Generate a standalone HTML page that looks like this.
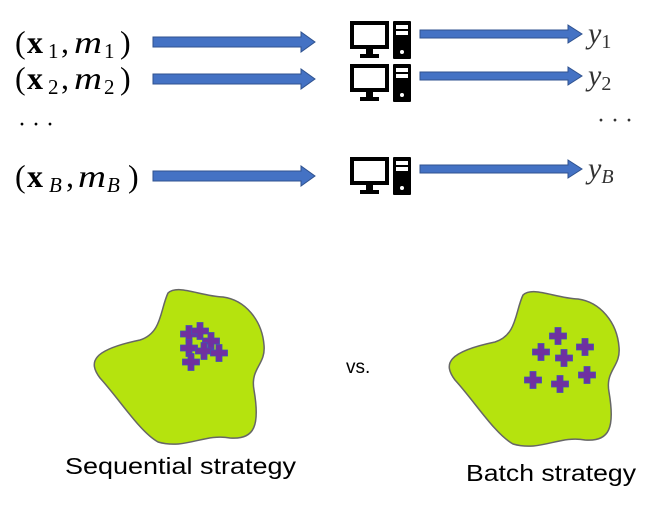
<!DOCTYPE html>
<html><head><style>body{margin:0;background:#fff}svg{display:block}</style></head><body>
<svg width="661" height="510" viewBox="0 0 661 510" xmlns="http://www.w3.org/2000/svg">
<defs>
<g id="pc">
  <rect x="2" y="2" width="35" height="24" fill="none" stroke="#000" stroke-width="4"/>
  <rect x="16" y="27" width="7" height="7" fill="#000"/>
  <rect x="10" y="33" width="19" height="4" fill="#000"/>
  <rect x="43" y="0" width="18" height="38" rx="1" fill="#000"/>
  <rect x="46" y="4" width="12" height="4" fill="#fff"/>
  <rect x="46" y="10" width="12" height="4" fill="#fff"/>
  <circle cx="52" cy="31" r="2" fill="#fff"/>
</g>
<g id="arrL">
  <path d="M0,-5 H148 V-10 L162,0 L148,10 V5 H0 Z" fill="#4472c4" stroke="#2f528f" stroke-width="1"/>
</g>
<g id="arrR">
  <path d="M0,-4 H148 V-9 L162,0 L148,9 V4 H0 Z" fill="#4472c4" stroke="#2f528f" stroke-width="1"/>
</g>
<g id="cr"><path d="M-3,-8.5 h6 v5.5 h5.5 v6 h-5.5 v5.5 h-6 v-5.5 h-5.5 v-6 h5.5 z" fill="#7030a0" stroke="#3f51b5" stroke-width="0.8"/></g>
<path id="blob" d="M168,293 C178,284 200,296 223,297 C245,300 262,320 264,345 C266,365 250,368 254,390 C260,425 255,440 230,438 C205,433 185,450 158,442 C140,432 120,400 100,378 C88,362 92,350 140,340 C162,333 160,310 168,293 Z" fill="#b5e30e" stroke="#666" stroke-width="1.5"/>
<g id="lab">
  <text x="15" y="0">(</text>
  <text x="27" y="0" font-weight="bold">x</text>
  <text x="61" y="0">,</text>
  <text x="74" y="0" font-style="italic" textLength="28" lengthAdjust="spacingAndGlyphs">m</text>
  <text x="120" y="0">)</text>
</g>
</defs>
<g font-family="'Liberation Serif',serif" font-size="32" fill="#000">
  <use href="#lab" y="53"/>
  <text x="48" y="58" font-size="21">1</text><text x="104" y="58" font-size="21">1</text>
  <use href="#lab" y="89"/>
  <text x="48" y="94" font-size="21">2</text><text x="104" y="94" font-size="21">2</text>
  <text x="18" y="132" font-size="24">· · ·</text>
  <text x="15" y="187">(</text>
  <text x="27" y="187" font-weight="bold">x</text>
  <text x="49" y="192" font-size="21" font-style="italic">B</text>
  <text x="66" y="187">,</text>
  <text x="78" y="187" font-style="italic" textLength="28" lengthAdjust="spacingAndGlyphs">m</text>
  <text x="107" y="192" font-size="21" font-style="italic">B</text>
  <text x="128" y="187">)</text>
  <text x="588" y="43" font-size="30" font-style="italic" fill="#333">y<tspan font-size="20" dy="5" font-style="normal">1</tspan></text>
  <text x="588" y="85" font-size="30" font-style="italic" fill="#333">y<tspan font-size="20" dy="5" font-style="normal">2</tspan></text>
  <text x="597" y="128" font-size="24" fill="#333">· · ·</text>
  <text x="588" y="178" font-size="30" font-style="italic" fill="#333">y<tspan font-size="20" dy="5">B</tspan></text>
</g>
<use href="#arrL" x="153" y="42"/>
<use href="#arrL" x="153" y="79"/>
<use href="#arrL" x="153" y="176"/>
<use href="#pc" x="350" y="21"/>
<use href="#pc" x="350" y="64"/>
<use href="#pc" x="350" y="157"/>
<use href="#arrR" x="420" y="34"/>
<use href="#arrR" x="420" y="76"/>
<use href="#arrR" x="420" y="169"/>
<use href="#blob"/>
<use href="#blob" x="355" y="2"/>
<g>
  <use href="#cr" x="189" y="334"/><use href="#cr" x="200" y="331"/><use href="#cr" x="211" y="341"/>
  <use href="#cr" x="189" y="348"/><use href="#cr" x="204" y="351"/><use href="#cr" x="219" y="353"/>
  <use href="#cr" x="191" y="362"/>
  <use href="#cr" x="558" y="336"/><use href="#cr" x="541" y="352"/><use href="#cr" x="564" y="358"/>
  <use href="#cr" x="585" y="347"/><use href="#cr" x="533" y="380"/><use href="#cr" x="560" y="384"/>
  <use href="#cr" x="587" y="375"/>
</g>
<g font-family="'Liberation Sans',sans-serif" fill="#000">
  <text x="346" y="373" font-size="19">vs.</text>
  <text x="65" y="474" font-size="23" textLength="231" lengthAdjust="spacingAndGlyphs">Sequential strategy</text>
  <text x="466" y="481" font-size="23" textLength="170" lengthAdjust="spacingAndGlyphs">Batch strategy</text>
</g>
</svg>
</body></html>
